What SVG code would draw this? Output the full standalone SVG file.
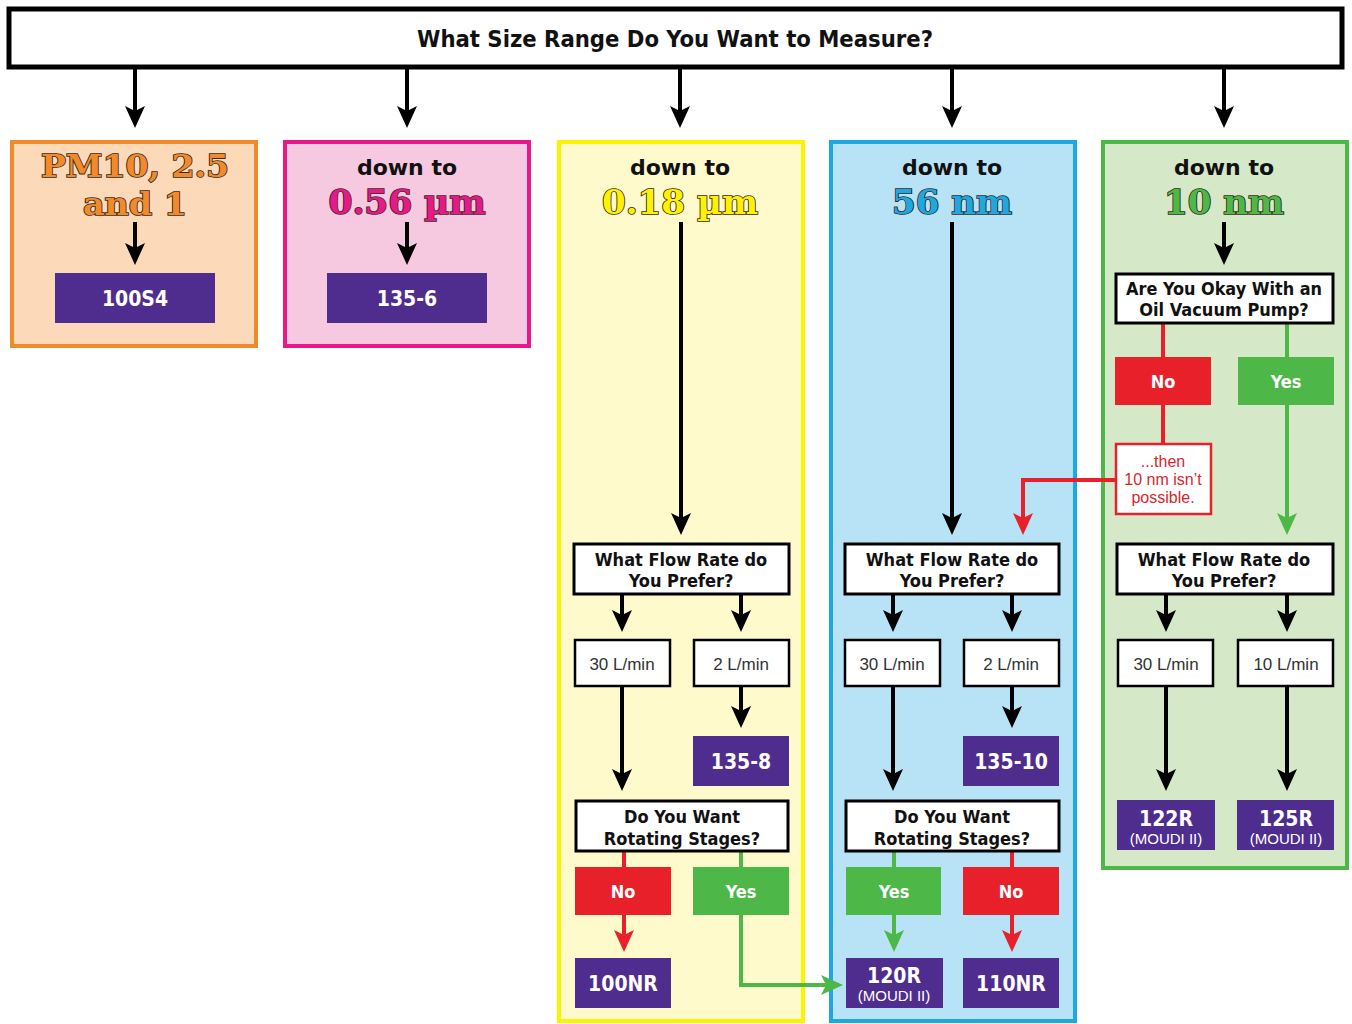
<svg xmlns="http://www.w3.org/2000/svg" width="1352" height="1024" viewBox="0 0 1352 1024">
<defs>
<marker id="ah" markerUnits="userSpaceOnUse" markerWidth="22" markerHeight="20" viewBox="0 0 22 20" refX="12" refY="10" orient="auto"><path d="M0,0 L22,10 L0,20 L5,10 Z" fill="#000"/></marker>
<marker id="ahr" markerUnits="userSpaceOnUse" markerWidth="22" markerHeight="20" viewBox="0 0 22 20" refX="12" refY="10" orient="auto"><path d="M0,0 L22,10 L0,20 L5,10 Z" fill="#E8202A"/></marker>
<marker id="ahg" markerUnits="userSpaceOnUse" markerWidth="22" markerHeight="20" viewBox="0 0 22 20" refX="12" refY="10" orient="auto"><path d="M0,0 L22,10 L0,20 L5,10 Z" fill="#4DB848"/></marker>
</defs>
<style>
text{font-family:"DejaVu Sans Condensed","DejaVu Sans","Liberation Sans",sans-serif;text-anchor:middle}
.q{fill:#fff;stroke:#000;stroke-width:3}
.qt{font-weight:bold;font-size:18px;fill:#111}
.opt{fill:#fff;stroke:#000;stroke-width:2.5}
.optt{font-size:17px;fill:#333;font-family:"Liberation Sans",sans-serif;font-weight:300}
.prod{fill:#4F2D8E}
.prodt{font-weight:bold;font-size:21px;fill:#fff}
.moudi{font-size:15px;fill:#fff;font-family:"Liberation Sans Narrow","Liberation Sans",sans-serif}
.no{fill:#E8202A}
.yes{fill:#4DB848}
.ynt{font-weight:bold;font-size:18px;fill:#fff}
.dt{font-weight:bold;font-size:22px;fill:#111;font-family:"DejaVu Sans","Liberation Sans",sans-serif}
.slab{font-family:"DejaVu Serif Condensed","DejaVu Serif",serif;font-weight:bold;font-size:34px;stroke:#3a2a1a;stroke-width:1.6;paint-order:stroke}
.pm{font-size:32px}
.k{stroke:#000;stroke-width:4;fill:none;marker-end:url(#ah)}
.r{stroke:#E8202A;stroke-width:4;fill:none}
.g{stroke:#4DB848;stroke-width:4;fill:none}
.then{font-size:16px;fill:#D9262C;font-family:"Liberation Sans Narrow","Liberation Sans",sans-serif}
</style>

<g id="title">
<rect x="9" y="9" width="1333" height="58" fill="#fff" stroke="#000" stroke-width="5"/>
<text x="675" y="47" font-weight="bold" font-size="23" fill="#111" textLength="516" lengthAdjust="spacingAndGlyphs">What Size Range Do You Want to Measure?</text>
</g>

<g id="panel-pm">
<rect x="12" y="142" width="244" height="204" fill="#FCD9B9" stroke="#F08A2A" stroke-width="4"/>
<text class="slab pm" x="135" y="177" fill="#F08A2A" textLength="188" lengthAdjust="spacingAndGlyphs">PM10, 2.5</text>
<text class="slab pm" x="135" y="215" fill="#F08A2A" textLength="104" lengthAdjust="spacingAndGlyphs">and 1</text>
</g>
<g id="n-100S4"><rect class="prod" x="55" y="273" width="160" height="50"/><text class="prodt" x="135" y="306">100S4</text></g>

<g id="panel-056">
<rect x="285" y="142" width="244" height="204" fill="#F6C9E0" stroke="#E6198A" stroke-width="4"/>
<text class="dt" x="407" y="175">down to</text>
<text class="slab" x="407" y="214" fill="#E6198A" textLength="157" lengthAdjust="spacingAndGlyphs">0.56 µm</text>
</g>
<g id="n-135-6"><rect class="prod" x="327" y="273" width="160" height="50"/><text class="prodt" x="407" y="306">135-6</text></g>

<g id="panel-018">
<rect x="559" y="142" width="244" height="879" fill="#FFFACC" stroke="#FFF200" stroke-width="4"/>
<text class="dt" x="680" y="175">down to</text>
<text class="slab" x="680" y="214" fill="#FFF200" textLength="156" lengthAdjust="spacingAndGlyphs">0.18 µm</text>
</g>

<g id="panel-56">
<rect x="831" y="142" width="244" height="879" fill="#B8E2F6" stroke="#1DA8E0" stroke-width="4"/>
<text class="dt" x="952" y="175">down to</text>
<text class="slab" x="952" y="214" fill="#1DA8E0" textLength="120" lengthAdjust="spacingAndGlyphs">56 nm</text>
</g>

<g id="panel-10">
<rect x="1103" y="142" width="244" height="726" fill="#D5E8C8" stroke="#4DB848" stroke-width="4"/>
<text class="dt" x="1224" y="175">down to</text>
<text class="slab" x="1224" y="214" fill="#4DB848" textLength="120" lengthAdjust="spacingAndGlyphs">10 nm</text>
</g>

<g id="connectors">
<line class="k" x1="135" y1="67" x2="135" y2="118"/>
<line class="k" x1="407" y1="67" x2="407" y2="118"/>
<line class="k" x1="680" y1="67" x2="680" y2="118"/>
<line class="k" x1="952" y1="67" x2="952" y2="118"/>
<line class="k" x1="1224" y1="67" x2="1224" y2="118"/>
<line class="k" x1="135" y1="222" x2="135" y2="255"/>
<line class="k" x1="407" y1="222" x2="407" y2="255"/>
<line class="k" x1="1224" y1="222" x2="1224" y2="255"/>
<line class="k" x1="681" y1="222" x2="681" y2="525"/>
<line class="k" x1="952" y1="222" x2="952" y2="525"/>
<line class="k" x1="622" y1="594" x2="622" y2="622"/>
<line class="k" x1="741" y1="594" x2="741" y2="622"/>
<line class="k" x1="893" y1="594" x2="893" y2="622"/>
<line class="k" x1="1012" y1="594" x2="1012" y2="622"/>
<line class="k" x1="1166" y1="594" x2="1166" y2="622"/>
<line class="k" x1="1287" y1="594" x2="1287" y2="622"/>
<line class="k" x1="622" y1="686" x2="622" y2="781"/>
<line class="k" x1="741" y1="686" x2="741" y2="718"/>
<line class="k" x1="893" y1="686" x2="893" y2="781"/>
<line class="k" x1="1012" y1="686" x2="1012" y2="718"/>
<line class="k" x1="1166" y1="686" x2="1166" y2="781"/>
<line class="k" x1="1287" y1="686" x2="1287" y2="781"/>
<line class="r" x1="624" y1="851" x2="624" y2="867"/>
<line class="g" x1="741" y1="851" x2="741" y2="867"/>
<line class="r" x1="624" y1="915" x2="624" y2="942" marker-end="url(#ahr)"/>
<polyline class="g" points="741,915 741,985 833,985" marker-end="url(#ahg)"/>
<line class="g" x1="894" y1="851" x2="894" y2="867"/>
<line class="r" x1="1012" y1="851" x2="1012" y2="867"/>
<line class="g" x1="894" y1="915" x2="894" y2="942" marker-end="url(#ahg)"/>
<line class="r" x1="1012" y1="915" x2="1012" y2="942" marker-end="url(#ahr)"/>
<line class="r" x1="1163" y1="323" x2="1163" y2="357"/>
<line class="g" x1="1287" y1="323" x2="1287" y2="357"/>
<line class="r" x1="1163" y1="405" x2="1163" y2="444"/>
<line class="g" x1="1287" y1="405" x2="1287" y2="525" marker-end="url(#ahg)"/>
<polyline class="r" points="1116,480 1023,480 1023,525" marker-end="url(#ahr)"/>
</g>

<g id="q-oil"><rect class="q" x="1116" y="274" width="217" height="49"/>
<text class="qt" x="1224" y="295" font-size="17" textLength="196" lengthAdjust="spacingAndGlyphs">Are You Okay With an</text><text class="qt" x="1224" y="316" font-size="17">Oil Vacuum Pump?</text></g>
<g id="no-oil"><rect class="no" x="1115" y="357" width="96" height="48"/><text class="ynt" x="1163" y="388">No</text></g>
<g id="yes-oil"><rect class="yes" x="1238" y="357" width="96" height="48"/><text class="ynt" x="1286" y="388">Yes</text></g>
<g id="then"><rect x="1116" y="444" width="95" height="70" fill="#fff" stroke="#E8202A" stroke-width="2.5"/>
<text class="then" x="1163" y="467">...then</text>
<text class="then" x="1163" y="485">10 nm isn’t</text>
<text class="then" x="1163" y="503">possible.</text></g>

<g id="q-flow-018"><rect class="q" x="574" y="544" width="215" height="50"/>
<text class="qt" x="681" y="566">What Flow Rate do</text><text class="qt" x="681" y="587">You Prefer?</text></g>
<g id="q-flow-56"><rect class="q" x="845" y="544" width="214" height="50"/>
<text class="qt" x="952" y="566">What Flow Rate do</text><text class="qt" x="952" y="587">You Prefer?</text></g>
<g id="q-flow-10"><rect class="q" x="1117" y="544" width="216" height="50"/>
<text class="qt" x="1224" y="566">What Flow Rate do</text><text class="qt" x="1224" y="587">You Prefer?</text></g>

<g id="o-30-018"><rect class="opt" x="575" y="640" width="95" height="46"/><text class="optt" x="622" y="670">30 L/min</text></g>
<g id="o-2-018"><rect class="opt" x="694" y="640" width="95" height="46"/><text class="optt" x="741" y="670">2 L/min</text></g>
<g id="o-30-56"><rect class="opt" x="845" y="640" width="95" height="46"/><text class="optt" x="892" y="670">30 L/min</text></g>
<g id="o-2-56"><rect class="opt" x="964" y="640" width="95" height="46"/><text class="optt" x="1011" y="670">2 L/min</text></g>
<g id="o-30-10"><rect class="opt" x="1118" y="640" width="95" height="46"/><text class="optt" x="1166" y="670">30 L/min</text></g>
<g id="o-10-10"><rect class="opt" x="1238" y="640" width="95" height="46"/><text class="optt" x="1286" y="670">10 L/min</text></g>

<g id="n-135-8"><rect class="prod" x="693" y="736" width="96" height="50"/><text class="prodt" x="741" y="769">135-8</text></g>
<g id="n-135-10"><rect class="prod" x="963" y="736" width="96" height="50"/><text class="prodt" x="1011" y="769">135-10</text></g>
<g id="n-122R"><rect class="prod" x="1117" y="800" width="98" height="50"/><text class="prodt" x="1166" y="826">122R</text><text class="moudi" x="1166" y="844">(MOUDI II)</text></g>
<g id="n-125R"><rect class="prod" x="1237" y="800" width="97" height="50"/><text class="prodt" x="1286" y="826">125R</text><text class="moudi" x="1286" y="844">(MOUDI II)</text></g>

<g id="q-rot-018"><rect class="q" x="576" y="801" width="212" height="50"/>
<text class="qt" x="682" y="823">Do You Want</text><text class="qt" x="682" y="845">Rotating Stages?</text></g>
<g id="q-rot-56"><rect class="q" x="846" y="801" width="213" height="50"/>
<text class="qt" x="952" y="823">Do You Want</text><text class="qt" x="952" y="845">Rotating Stages?</text></g>

<g id="no-018"><rect class="no" x="575" y="867" width="96" height="48"/><text class="ynt" x="623" y="898">No</text></g>
<g id="yes-018"><rect class="yes" x="693" y="867" width="96" height="48"/><text class="ynt" x="741" y="898">Yes</text></g>
<g id="yes-56"><rect class="yes" x="846" y="867" width="95" height="48"/><text class="ynt" x="894" y="898">Yes</text></g>
<g id="no-56"><rect class="no" x="963" y="867" width="96" height="48"/><text class="ynt" x="1011" y="898">No</text></g>

<g id="n-100NR"><rect class="prod" x="575" y="958" width="96" height="50"/><text class="prodt" x="623" y="991">100NR</text></g>
<g id="n-120R"><rect class="prod" x="846" y="958" width="97" height="50"/><text class="prodt" x="894" y="983">120R</text><text class="moudi" x="894" y="1001">(MOUDI II)</text></g>
<g id="n-110NR"><rect class="prod" x="963" y="958" width="96" height="50"/><text class="prodt" x="1011" y="991">110NR</text></g>
</svg>
